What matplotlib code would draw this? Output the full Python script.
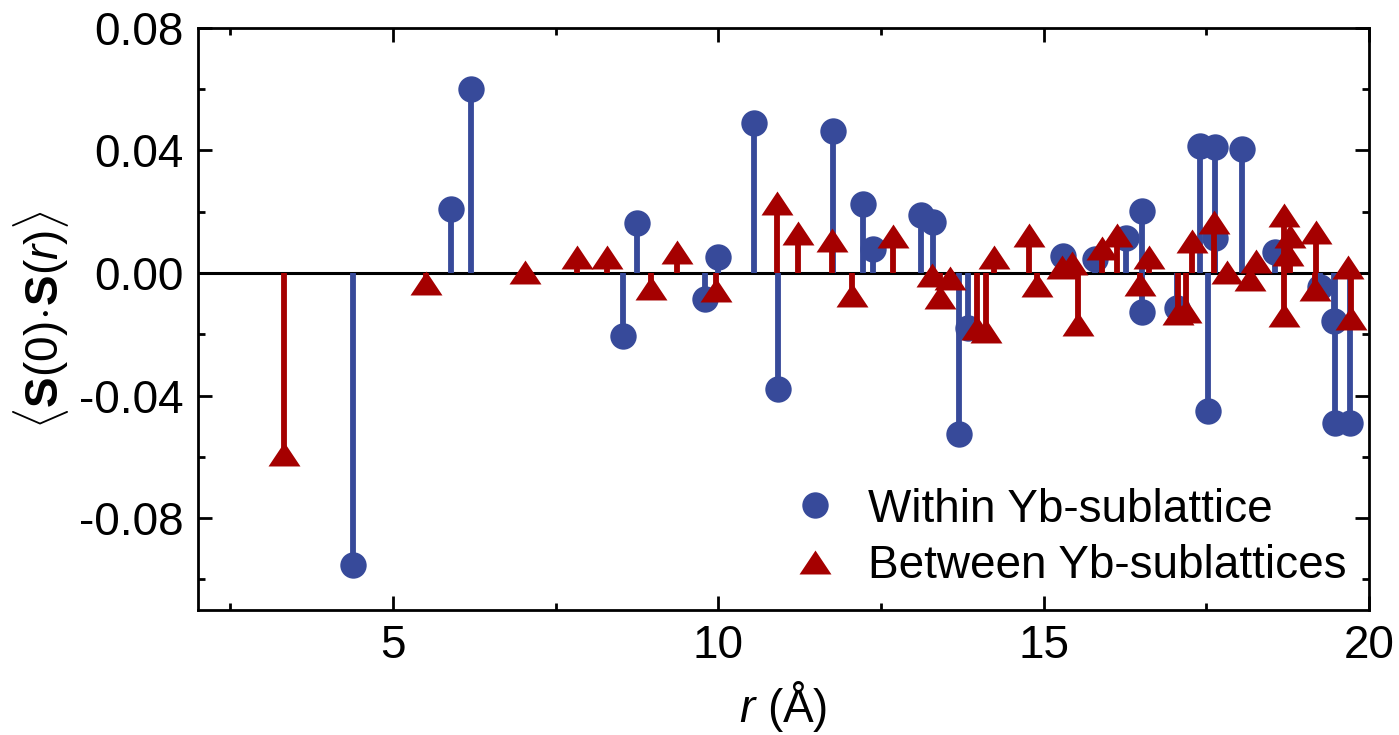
import numpy as np
import matplotlib.pyplot as plt
from matplotlib.lines import Line2D

plt.rcParams['font.family'] = ['Liberation Sans', 'DejaVu Sans']
plt.rcParams['mathtext.fontset'] = 'custom'
plt.rcParams['mathtext.rm'] = 'Liberation Sans'
plt.rcParams['mathtext.it'] = 'Liberation Sans:italic'
plt.rcParams['mathtext.bf'] = 'Liberation Sans:bold'

# within Yb-sublattice
r_within = [4.38, 5.885, 6.19, 8.53, 8.75, 9.79, 10.0, 10.55, 10.91, 11.76,
            12.22, 12.38, 13.12, 13.30, 13.70, 13.84, 15.30, 15.78, 16.26, 16.51,
            16.51, 17.05, 17.40, 17.53, 17.63, 17.63, 18.04, 18.56, 19.24, 19.46,
            19.48, 19.71]
c_within = [-0.0954, 0.021, 0.060, -0.0206, 0.0164, -0.0085, 0.0053, 0.0489, -0.0378, 0.0463,
            0.0226, 0.0079, 0.019, 0.0168, -0.0525, -0.018, 0.0056, 0.0045, 0.0114, 0.0201,
            -0.0127, -0.0115, 0.0415, -0.045, 0.041, 0.0115, 0.0405, 0.007, -0.0045, -0.0155,
            -0.0488, -0.049]

# between Yb-sublattices
r_between = [3.33, 5.50, 7.03, 7.82, 8.28, 8.96, 9.36, 9.97, 10.90, 11.23,
             11.74, 12.05, 12.69, 13.28, 13.41, 13.56, 13.97, 14.11, 14.24, 14.78,
             14.89, 15.28, 15.43, 15.53, 15.89, 16.12, 16.48, 16.61, 17.07, 17.19,
             17.28, 17.61, 17.82, 18.17, 18.26, 18.69, 18.69, 18.76, 18.79, 19.17,
             19.19, 19.68, 19.73]
c_between = [-0.059, -0.0034, 0.0002, 0.0053, 0.0053, -0.0048, 0.007, -0.0056, 0.0229, 0.013,
             0.0108, -0.0072, 0.0121, -0.0007, -0.0078, -0.0017, -0.018, -0.019, 0.0053, 0.0125,
             -0.0039, 0.002, 0.0032, -0.0165, 0.0083, 0.0125, -0.0036, 0.0053, -0.013, -0.0124,
             0.0103, 0.0165, 0.0003, -0.002, 0.004, 0.019, -0.0138, 0.0062, 0.012, -0.0053,
             0.0133, 0.0021, -0.0146]

blue = '#374A9A'
red = '#A50000'
tri = [(-1, -0.75), (1, -0.75), (0, 0.75)]
fs = 33

fig = plt.figure(figsize=(13.99, 7.35), dpi=100)
ax = fig.add_axes([0.1415, 0.170, 0.8371, 0.792])

ax.axhline(0, color='k', lw=2.2, zorder=1)

s1 = ax.stem(r_within, c_within, basefmt=' ')
plt.setp(s1.stemlines, color=blue, lw=4.2)
plt.setp(s1.markerline, color=blue, marker='o', markersize=19, markeredgewidth=0)

s2 = ax.stem(r_between, c_between, basefmt=' ')
plt.setp(s2.stemlines, color=red, lw=4.2)
plt.setp(s2.markerline, color=red, marker=tri, markersize=23, markeredgewidth=0)

ax.set_xlim(2, 20)
ax.set_ylim(-0.11, 0.08)
ax.set_xticks([5, 10, 15, 20])
ax.set_xticks([2.5, 7.5, 12.5, 17.5], minor=True)
ax.set_yticks([-0.08, -0.04, 0.0, 0.04, 0.08])
ax.set_yticklabels(['-0.08', '-0.04', '0.00', '0.04', '0.08'])
ax.set_yticks([-0.10, -0.06, -0.02, 0.02, 0.06], minor=True)

ax.tick_params(which='both', direction='in', top=True, right=True, width=2, labelsize=fs)
ax.tick_params(which='major', length=10, pad=10)
ax.tick_params(which='minor', length=5)
for sp in ax.spines.values():
    sp.set_linewidth(2)

ax.set_xlabel(r'$r$ (Å)', fontsize=fs, labelpad=8)
ax.set_ylabel(r'$\langle\mathbf{S}(0)\!\cdot\!\mathbf{S}(r)\rangle$', fontsize=fs, labelpad=6)

h1 = Line2D([], [], color=blue, marker='o', markersize=19, ls='none', markeredgewidth=0)
h2 = Line2D([], [], color=red, marker=tri, markersize=23, ls='none', markeredgewidth=0)
ax.legend([h1, h2], ['Within Yb-sublattice', 'Between Yb-sublattices'],
          loc='lower right', bbox_to_anchor=(1.004, -0.01), frameon=False, fontsize=fs,
          handlelength=1.2, handletextpad=0.55, labelspacing=0.28,
          borderaxespad=0.2)

fig.savefig('out.png', dpi=100)
